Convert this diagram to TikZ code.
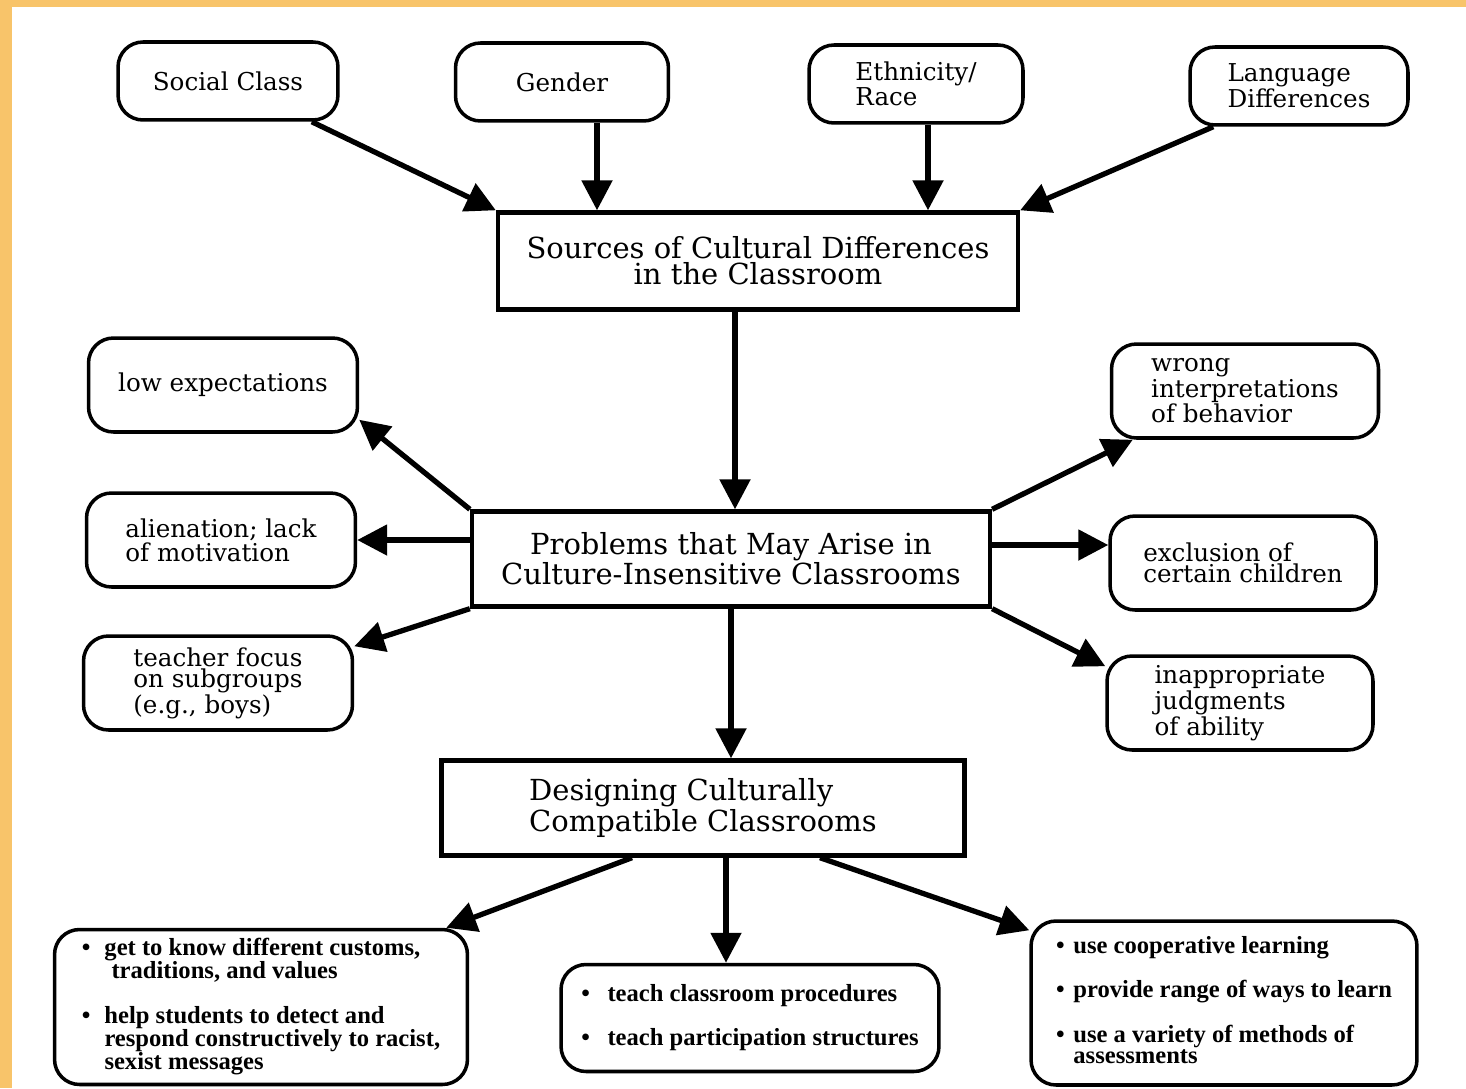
\documentclass[tikz,border=0pt]{standalone}
\usepackage{fontspec}
\setmainfont{DejaVu Serif}
\newfontfamily\tipfont{Liberation Serif}
\definecolor{FrameGold}{HTML}{F8C46A}
\usetikzlibrary{arrows.meta, calc}
\tikzset{
  % Box styles
  causebox/.style={rectangle, rounded corners=0.5cm, draw=black, line width=2pt, minimum height=1.56cm, font=\fontsize{14}{12}\selectfont, align=left},
  titlebox/.style={rectangle, draw=black, line width=2.5pt, minimum width=10.4cm, minimum height=1.9cm, font=\fontsize{16.5}{15}\selectfont, align=center},
  issuebox/.style={rectangle, rounded corners=0.5cm, draw=black, line width=2pt, minimum width=5.34cm, minimum height=1.88cm, font=\fontsize{14}{12}\selectfont, align=left},
  tipbox/.style={rectangle, rounded corners=0.5cm, draw=black, line width=2pt, font=\tipfont\bfseries\fontsize{14}{12}\selectfont, align=left},
  % Arrow styles
  arrow/.style={-{Triangle[length=0.6cm, width=0.6cm]}, line width=3pt}
}
\begin{document}
\begin{tikzpicture}[x=0.02cm, y=-0.02cm]
  % Frame
  \fill[FrameGold] (0,0) rectangle (1466,1088);
  \fill[white] (12,7) rectangle (1466,1088);

  % Sources of difference
  \node[causebox, minimum width=4.4cm] (social) at (228,81) {Social Class};
  \node[causebox, minimum width=4.26cm] (gender) at (562,82) {Gender};
  \node[causebox, minimum width=4.28cm] (ethnic) at (916,84) {Ethnicity/\\Race};
  \node[causebox, minimum width=4.36cm] (language) at (1299,86) {Language\\Differences};

  % Main stages
  \node[titlebox, minimum height=1.94cm] (sources) at (758,261) {Sources of Cultural Differences\\in the Classroom};
  \node[titlebox, minimum width=10.36cm] (problems) at (731,559) {Problems that May Arise in\\Culture-Insensitive Classrooms};
  \node[titlebox, minimum width=10.46cm, align=left] (designing) at (703,808) {Designing Culturally\\Compatible Classrooms};

  % Problems
  \node[issuebox, minimum width=5.38cm] (lowexp) at (223,385) {low expectations};
  \node[issuebox, minimum width=5.38cm] (alienation) at (221,540) {alienation; lack\\of motivation};
  \node[issuebox, minimum width=5.38cm] (focus) at (218,683) {teacher focus\\on subgroups\\(e.g., boys)};
  \node[issuebox] (wrong) at (1245,391) {wrong\\interpretations\\of behavior};
  \node[issuebox, minimum width=5.32cm] (exclusion) at (1243,563) {exclusion of\\certain children};
  \node[issuebox, minimum width=5.32cm] (judgment) at (1240,703) {inappropriate\\judgments\\of ability};

  % Classroom practices
  \node[tipbox, minimum width=8.26cm, minimum height=3.1cm] (tips1) at (261,1007) {%
    \begin{tabular}{@{}l@{\hspace{8pt}}l@{}}
      \textbullet & get to know different customs,\\
                  & \hspace{4pt}traditions, and values\\[12pt]
      \textbullet & help students to detect and\\
                  & respond constructively to racist,\\
                  & sexist messages
    \end{tabular}};
  \node[tipbox, minimum width=7.56cm, minimum height=2.14cm] (tips2) at (750,1018) {%
    \begin{tabular}{@{}l@{\hspace{10pt}}l@{}}
      \textbullet & teach classroom procedures\\[12pt]
      \textbullet & teach participation structures
    \end{tabular}};
  \node[tipbox, minimum width=7.72cm, minimum height=3.28cm] (tips3) at (1224,1003) {%
    \begin{tabular}{@{}l@{\hspace{5pt}}l@{}}
      \textbullet & use cooperative learning\\[12pt]
      \textbullet & provide range of ways to learn\\[12pt]
      \textbullet & use a variety of methods of\\
                  & assessments
    \end{tabular}};

  \draw[arrow] ([xshift=-0.56cm]social.south east) -- (sources.north west);
  \draw[arrow] ([xshift=0.7cm]gender.south) -- ([xshift=0.7cm]gender.south |- sources.north);
  \draw[arrow] ([xshift=0.24cm]ethnic.south) -- ([xshift=0.24cm]ethnic.south |- sources.north);
  \draw[arrow] ([xshift=0.5cm]language.south west) -- (sources.north east);
  \draw[arrow] ([xshift=-0.46cm]sources.south) -- ([xshift=-0.46cm]sources.south |- problems.north);
  \draw[arrow] (problems.north west) -- ([yshift=0.28cm]lowexp.south east);
  \draw[arrow] (problems.west |- alienation.east) -- (alienation.east);
  \draw[arrow] (problems.south west) -- ([yshift=-0.24cm]focus.north east);
  \draw[arrow] (problems.north east) -- ([xshift=0.46cm]wrong.south west);
  \draw[arrow] ([yshift=0.28cm]problems.east) -- ([yshift=0.28cm]problems.east -| exclusion.west);
  \draw[arrow] (problems.south east) -- ([yshift=-0.24cm]judgment.north west);
  \draw[arrow] (problems.south) -- (problems.south |- designing.north);
  \draw[arrow] ([xshift=-1.42cm]designing.south) -- ([xshift=-0.46cm]tips1.north east);
  \draw[arrow] ([xshift=0.46cm]designing.south) -- ([xshift=0.46cm]designing.south |- tips2.north);
  \draw[arrow] ([xshift=2.34cm]designing.south) -- ([yshift=-0.22cm]tips3.north west);
\end{tikzpicture}
\end{document}
